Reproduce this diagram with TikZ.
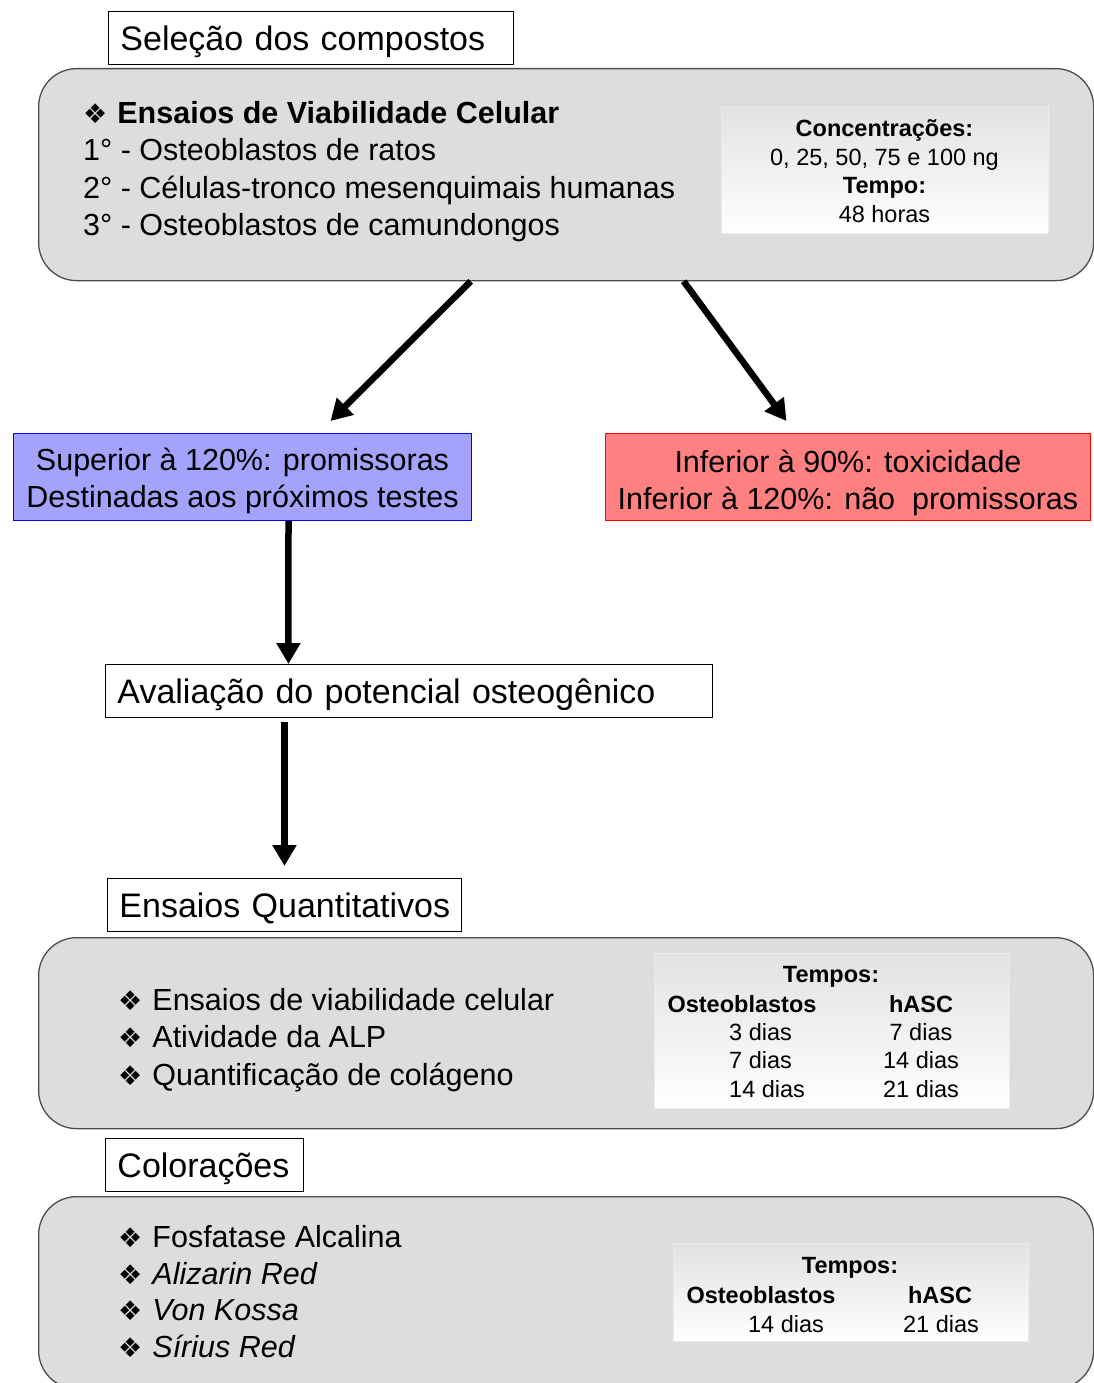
\documentclass[tikz,border=0pt]{standalone}
\usepackage{fontspec}
\setmainfont{Liberation Sans}
\newfontfamily\symfont{DejaVu Sans}
\usetikzlibrary{
    arrows.meta,
    positioning
}
\definecolor{boxGray}{RGB}{221,221,221}
\definecolor{supBlue}{RGB}{163,163,252}
\definecolor{infRed}{RGB}{255,128,128}
\newcommand{\bul}{{\symfont\fontsize{27}{27}\selectfont ❖}\hspace{10pt}}
\tikzset{
  hdr/.style     = {draw, fill=white, line width=0.9pt, anchor=north west,
                    inner xsep=12pt, minimum height=53pt, align=left,
                    text height=27pt, text depth=2pt,
                    font=\fontsize{34}{40}\selectfont},
  bigbox/.style  = {draw=black!70, fill=boxGray, line width=1.3pt,
                    rounded corners=38pt, anchor=north west},
  gbox/.style    = {draw=white!92!black, line width=0.6pt, top color=boxGray!85!white,
                    bottom color=white, anchor=north west},
  cbox/.style    = {line width=1pt, anchor=north west, align=center,
                    font=\fontsize{30.5}{37}\selectfont},
  txt/.style     = {inner sep=0pt, align=left, anchor=west,
                    font=\fontsize{30.5}{37.3}\selectfont},
  gtxt/.style    = {inner sep=0pt, align=center, font=\fontsize{23.5}{28.5}\selectfont},
  arr/.style     = {-{Triangle[length=21pt,width=23pt]}, line width=6.5pt}
}

\begin{document}
\begin{tikzpicture}[x=1pt, y=-1pt]
  \useasboundingbox (0,0) rectangle (1094,1383);
  \clip (0,0) rectangle (1094,1383);

  % selecao
  \node[hdr, text width=381pt] (sel) at (108,11) {Seleção dos compostos};
  \node[bigbox, minimum width=1055pt, minimum height=212pt] (via) at (38,68) {};
  \node[txt] (viatxt) at (83,171.5) {\bul\textbf{Ensaios de Viabilidade Celular}\\
    1° - Osteoblastos de ratos\\
    2° - Células-tronco mesenquimais humanas\\
    3° - Osteoblastos de camundongos};
  \node[gbox, minimum width=327pt, minimum height=127pt] (conc) at (721,106) {};
  \node[gtxt] (conctxt) at (884.5,171) {\textbf{Concentrações:}\\
    0, 25, 50, 75 e 100 ng\\\textbf{Tempo:}\\48 horas};

  % resultados
  \node[cbox, draw=blue, fill=supBlue, minimum width=458pt, minimum height=87pt] (sup)
    at (13,433) {\rule{0pt}{31pt}Superior à 120\%: promissoras\\Destinadas aos próximos testes};
  \node[cbox, draw=red, fill=infRed, minimum width=485pt, minimum height=87pt] (inf)
    at (605,433) {\rule{0pt}{35pt}Inferior à 90\%: toxicidade\\Inferior à 120\%: não~~promissoras};
  \draw[arr] ([xshift=-95.5pt]via.south) -- ([xshift=88pt,yshift=12pt]sup.north);
  \draw[arr] ([xshift=117.5pt]via.south) -- ([xshift=-61.5pt,yshift=12pt]inf.north);

  % avaliacao
  \node[hdr, text width=583pt] (aval) at (105,664) {Avaliação do potencial osteogênico};
  \draw[arr] ([xshift=46pt]sup.south) -- ([xshift=-120.5pt]aval.north);
  \node[hdr, text width=330pt] (quant) at (107,878) {\mbox{Ensaios Quantitativos}};
  \draw[arr] ([xshift=-124.5pt,yshift=-4pt]aval.south) -- ([yshift=12pt]quant.north);

  % quantitativos
  \node[bigbox, minimum width=1055pt, minimum height=191pt] (qbox) at (38,937) {};
  \node[txt] (qtxt) at (118,1040) {\bul Ensaios de viabilidade celular\\
    \bul Atividade da ALP\\\bul Quantificação de colágeno};
  \node[gbox, minimum width=355pt, minimum height=155pt] (tq) at (654,953) {};
  \node[gtxt] (tqhead) at (831,977) {\textbf{Tempos:}};
  \node[gtxt] (tqost) at (742,1004) {\textbf{Osteoblastos}};
  \node[gtxt] (tqhasc) at (921,1004) {\textbf{hASC}};
  \foreach \a/\b [count=\i] in {3/7, 7/14, 14/21} {
    \node[gtxt, anchor=west] (tqa\i) at (729,1003+28.6*\i) {\a\ dias};
    \node[gtxt] (tqb\i) at (921,1003+28.6*\i) {\b\ dias};
  }

  % coloracoes
  \node[hdr, text width=174pt] (color) at (105,1138) {Colorações};
  \node[bigbox, minimum width=1055pt, minimum height=192pt] (cbox) at (38,1196) {};
  \node[txt, font=\fontsize{30.5}{36.5}\selectfont] (ctxt) at (118,1291.5) {\bul Fosfatase Alcalina\\
    \bul\textit{Alizarin Red}\\\bul\textit{Von Kossa}\\\bul\textit{Sírius Red}};
  \node[gbox, minimum width=355pt, minimum height=98pt] (tc) at (673,1243) {};
  \node[gtxt] (tchead) at (850,1268) {\textbf{Tempos:}};
  \node[gtxt] (tcost) at (761,1295) {\textbf{Osteoblastos}};
  \node[gtxt] (tchasc) at (940,1295) {\textbf{hASC}};
  \node[gtxt] (tca) at (786,1324) {14 dias};
  \node[gtxt] (tcb) at (941,1324) {21 dias};
\end{tikzpicture}
\end{document}
